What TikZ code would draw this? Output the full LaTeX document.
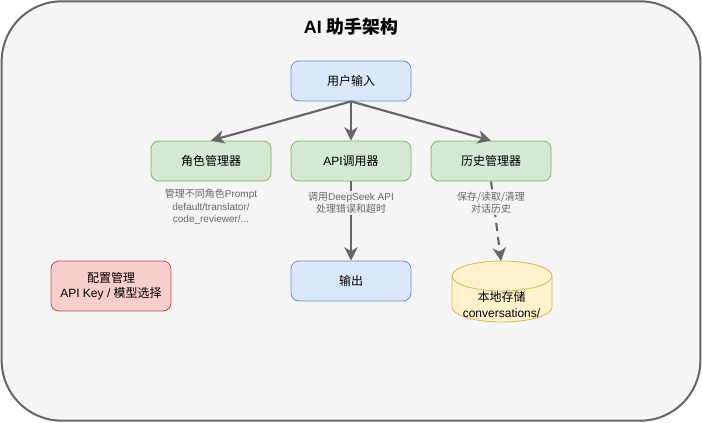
\documentclass[tikz,border=0pt]{standalone}
\usepackage{fontspec}
\setmainfont{Liberation Sans}
\newfontfamily\cjk{Noto Sans CJK SC}
\usetikzlibrary{arrows.meta}
\definecolor{framegray}{HTML}{666666}
\definecolor{panelgray}{HTML}{F5F5F5}
\definecolor{cblue}{HTML}{DAE8FC}
\definecolor{cbluedk}{HTML}{6C8EBF}
\definecolor{cgreen}{HTML}{D5E8D4}
\definecolor{cgreendk}{HTML}{82B366}
\definecolor{cred}{HTML}{F8CECC}
\definecolor{creddk}{HTML}{B85450}
\definecolor{cyellow}{HTML}{FFF2CC}
\definecolor{cyellowdk}{HTML}{D6B656}
\newcommand{\zh}[1]{{\cjk #1}}
\tikzset{
  box/.style={draw, rounded corners=6pt, line width=0.6pt, minimum width=90pt, minimum height=30pt,
              inner sep=0pt, align=center, font=\fontsize{9}{11.5}\selectfont},
  inputbox/.style={box, fill=cblue, draw=cbluedk},
  modulebox/.style={box, fill=cgreen, draw=cgreendk},
  configbox/.style={box, fill=cred, draw=creddk, minimum height=37.5pt},
  notetext/.style={align=center, text=framegray, font=\fontsize{7.5}{9.2}\selectfont,
                   inner sep=1pt, fill=panelgray, fill opacity=0.85, text opacity=1},
  flow/.style={-{Stealth[length=10pt,width=10pt,inset=3pt]}, framegray, line width=1.6pt}
}

\begin{document}
\begin{tikzpicture}[x=0.75pt, y=-0.75pt]
        \useasboundingbox (0,0) rectangle (702,422);
        \node[draw=framegray, fill=panelgray, line width=1.5pt, rounded corners=45pt, minimum width=524pt,
              minimum height=314.5pt, inner sep=0pt] (panel) at (351,211) {};
        \node[font=\fontsize{13.4}{16}\selectfont\bfseries] (title) at (351,27) {AI \zh{助手架构}};
        \node[inputbox] (input) at (351,81) {\zh{用户输入}};
        \node[modulebox] (role) at (211,161) {\zh{角色管理器}};
        \node[modulebox] (api) at (351,161) {API\zh{调用器}};
        \node[modulebox] (history) at (491,161) {\zh{历史管理器}};
        \node[inputbox] (output) at (351,281) {\zh{输出}};
        \node[configbox] (config) at (111,286) {\zh{配置管理}\\API Key / \zh{模型选择}};
        \draw[cyellowdk, fill=cyellow, line width=0.6pt] (452,276)
              arc[start angle=180, end angle=0, x radius=37.5pt, y radius=11.25pt]
              -- (552,307) arc[start angle=0, end angle=-180, x radius=37.5pt, y radius=11.25pt] -- cycle;
        \draw[cyellowdk, line width=0.6pt] (452,276)
              arc[start angle=180, end angle=360, x radius=37.5pt, y radius=11.25pt];
        \coordinate (storetop) at (501,261);
        \node[align=center, font=\fontsize{9}{11.5}\selectfont] (store) at (501.5,304.5)
             {\zh{本地存储}\\conversations/};
        \draw[flow] (input.south) -- (role.north);
        \draw[flow] (input.south) -- (api.north);
        \draw[flow] (input.south) -- (history.north);
        \draw[flow] (api.south) -- (output.north);
        \draw[flow, dash pattern=on 6pt off 4.5pt] (history.south) -- (storetop);
        \node[notetext] (rolenote) at (211,207)
             {\zh{管理不同角色}Prompt\\default/translator/\\code\_reviewer/...};
        \node[notetext] (apinote) at (351,203) {\zh{调用}DeepSeek API\\\zh{处理错误和超时}};
        \node[notetext] (historynote) at (491,203) {\zh{保存/读取/清理}\\\zh{对话历史}};
      \end{tikzpicture}
\end{document}
